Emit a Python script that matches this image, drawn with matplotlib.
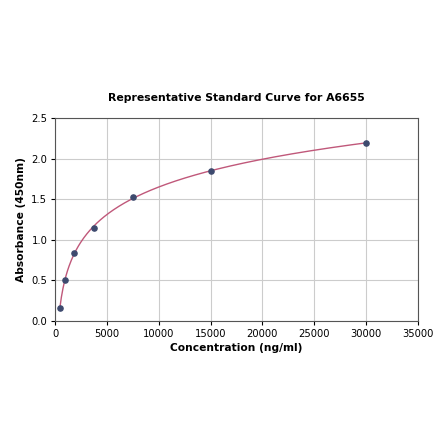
import numpy as np
import matplotlib
matplotlib.use("Agg")
import matplotlib.pyplot as plt

conc = [469, 938, 1875, 3750, 7500, 15000, 30000]
absorb = [0.16, 0.505, 0.84, 1.148, 1.531, 1.846, 2.196]

# smooth fit through the standards (cubic in log concentration)
lx = np.log(conc)
coef = np.polyfit(lx, absorb, 3)
xs = np.linspace(min(conc), max(conc), 400)
ys = np.polyval(coef, np.log(xs))

fig = plt.figure(figsize=(4.4, 4.41), dpi=100)
ax = fig.add_axes([0.125, 0.272, 0.825, 0.46])
ax.plot(xs, ys, color='#c0587a', lw=1.0, zorder=2)
ax.scatter(conc, absorb, s=14, color='#3d4a6e', zorder=3)

ax.set_xlim(0, 35000)
ax.set_ylim(0, 2.5)
ax.set_xticks(range(0, 35001, 5000))
ax.set_yticks([0, 0.5, 1.0, 1.5, 2.0, 2.5])
ax.grid(True, color='#cccccc', lw=0.8)
ax.set_axisbelow(True)
ax.tick_params(labelsize=7.2, length=3, pad=2.5)
for s in ax.spines.values():
    s.set_color('#555555')
    s.set_linewidth(0.8)

ax.set_title("Representative Standard Curve for A6655", fontsize=7.8, fontweight='bold', pad=12.5)
ax.set_xlabel("Concentration (ng/ml)", fontsize=7.7, fontweight='bold', labelpad=3)
ax.set_ylabel("Absorbance (450nm)", fontsize=7.7, fontweight='bold', labelpad=3.5)

fig.savefig('out.png', dpi=100)
